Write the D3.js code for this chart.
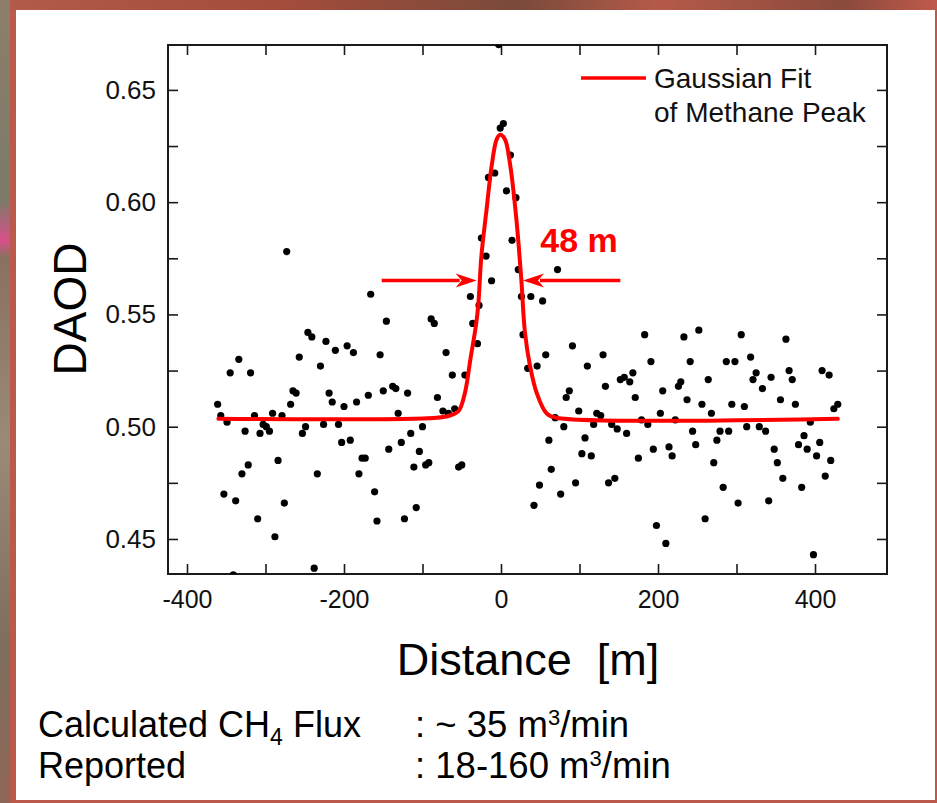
<!DOCTYPE html>
<html>
<head>
<meta charset="utf-8">
<script src="https://cdn.jsdelivr.net/npm/d3@7"></script>
<style>
  html, body { margin: 0; padding: 0; background: #b65545; }
  svg { display: block; }
  text { font-family: "Liberation Sans", Arial, sans-serif; }
</style>
</head>
<body>
<script>
// measured DAOD along the transect, [distance m, DAOD]
const measured = [
  [-273,0.578],[-166,0.559],[-39,0.558],[-28,0.554],[-12,0.565],[-19,0.576],[-25,0.584],
  [-16,0.611],[-8,0.613],[-1,0.633],[3,0.635],[12,0.621],[7,0.605],[19,0.602],[14,0.583],
  [22,0.570],[72,0.570],[26,0.558],[38,0.558],[53,0.556],[-3,0.6702],
  [-361,0.510],[-357,0.505],[-349,0.502],[-345,0.524],[-334,0.530],[-353,0.470],[-338,0.467],
  [-330,0.479],[-322,0.483],[-326,0.498],[-319,0.524],[-314,0.505],[-310,0.459],[-307,0.497],
  [-303,0.501],[-299,0.500],[-295,0.498],[-291,0.506],[-288,0.451],[-284,0.485],[-279,0.505],
  [-276,0.466],[-268,0.510],[-265,0.516],[-261,0.515],[-257,0.531],[-253,0.497],[-249,0.500],
  [-246,0.542],[-241,0.540],[-238,0.437],[-234,0.479],[-230,0.527],[-226,0.501],[-223,0.538],
  [-219,0.515],[-215,0.511],[-211,0.534],[-207,0.501],[-203,0.493],[-200,0.509],[-196,0.536],
  [-192,0.494],[-188,0.533],[-184,0.511],[-181,0.479],[-177,0.486],[-173,0.486],[-169,0.514],
  [-161,0.471],[-158,0.458],[-154,0.532],[-150,0.516],[-146,0.547],[-143,0.490],[-138,0.518],
  [-134,0.517],[-131,0.506],[-127,0.493],[-123,0.459],[-119,0.515],[-115,0.497],[-111,0.482],
  [-108,0.464],[-104,0.489],[-100,0.500],[-96,0.483],[-92,0.484],[-89,0.548],[-85,0.546],
  [-81,0.513],[-74,0.507],[-70,0.533],[-67,0.506],[-62,0.523],[-59,0.508],[-54,0.482],
  [-50,0.483],[-46,0.523],[-36,0.546],[-30,0.537],[-341,0.434],
  [28,0.541],[34,0.526],[46,0.527],[57,0.532],[69,0.504],[80,0.500],[61,0.494],[64,0.481],
  [49,0.474],[42,0.465],[76,0.470],[83,0.513],[87,0.516],[91,0.536],[99,0.507],[107,0.495],
  [103,0.488],[115,0.487],[95,0.475],[110,0.527],[118,0.501],[122,0.506],[127,0.505],
  [130,0.532],[133,0.518],[141,0.501],[148,0.499],[137,0.475],[145,0.477],[152,0.521],
  [157,0.522],[164,0.520],[168,0.524],[160,0.497],[171,0.513],[175,0.486],[179,0.503],
  [183,0.541],[187,0.501],[191,0.529],[194,0.490],[198,0.456],[203,0.506],[206,0.516],
  [210,0.448],[214,0.491],[218,0.487],[222,0.503],[226,0.518],[229,0.520],[233,0.540],
  [237,0.512],[241,0.529],[244,0.498],[248,0.492],[252,0.543],[256,0.510],[260,0.459],
  [264,0.521],[268,0.506],[271,0.484],[275,0.494],[279,0.498],[283,0.473],[287,0.529],
  [290,0.498],[294,0.510],[298,0.529],[302,0.466],[306,0.541],[310,0.509],[313,0.500],
  [318,0.531],[321,0.521],[325,0.524],[329,0.500],[333,0.517],[337,0.498],[341,0.467],
  [344,0.522],[348,0.490],[352,0.484],[356,0.512],[359,0.477],[363,0.539],[367,0.525],
  [371,0.521],[375,0.510],[379,0.492],[383,0.473],[386,0.496],[390,0.490],[394,0.502],
  [398,0.443],[402,0.487],[406,0.493],[409,0.525],[413,0.478],[418,0.523],[420,0.485],
  [424,0.508],[429,0.510]
];

// gaussian fit line, [distance m, DAOD]
const fitCurve = [
  [-360,0.5035],[-82,0.504],[-65,0.505],[-54,0.507],[-46,0.515],[-39,0.530],[-32,0.545],
  [-29,0.554],[-25,0.576],[-18,0.598],[-12,0.616],[-5.5,0.628],[-1,0.630],[5,0.628],
  [11.5,0.617],[18,0.598],[22,0.583],[26,0.565],[30.5,0.542],[37,0.527],[45.5,0.515],
  [58,0.506],[71,0.504],[429,0.5035]
];

const xTicks = [-400,-300,-200,-100,0,100,200,300,400];
const xLabels = [-400,-200,0,200,400];
const yTicks = [0.45,0.475,0.50,0.525,0.55,0.575,0.60,0.625,0.65];
const yLabels = [0.45,0.50,0.55,0.60,0.65];

// FWHM arrows: [from, to] in metres, at DAOD level
const fwhmArrows = [[-152,-31],[152,28]];
const fwhmLevel = 0.5651;
const fwhmText = "48 m";
const fwhmTextPos = [50, 0.5778];

const legendLines = ["Gaussian Fit", "of Methane Peak"];

const fluxRows = [
  { label: ["Calculated CH", "4", " Flux"], value: [": ~ 35 m", "3", "/min"] },
  { label: ["Reported", "", ""], value: [": 18-160 m", "3", "/min"] }
];

const W = 937, H = 803;
const plot = { left: 168, top: 45, right: 887, bottom: 574 };
const RED = "#ff0000";

const svg = d3.select("body").append("svg")
    .attr("width", W)
    .attr("height", H);

// textured-ish slide background
const defs = svg.append("defs");
const lg = defs.append("linearGradient").attr("id", "leftStrip")
    .attr("x1", 0).attr("y1", 0).attr("x2", 0).attr("y2", 1);
[["0%","#8d7e6a"],["25%","#7c7a68"],["30%","#d8508a"],["32%","#8a7060"],["55%","#9a8a78"],["80%","#7d6e5e"],["100%","#8f6656"]]
  .forEach(([o,c]) => lg.append("stop").attr("offset", o).attr("stop-color", c));
const tg = defs.append("linearGradient").attr("id", "topStrip");
[["0%","#b35a48"],["30%","#a34c3c"],["55%","#7a4a3a"],["70%","#b55a4a"],["90%","#8a4a3c"],["100%","#c05a4c"]]
  .forEach(([o,c]) => tg.append("stop").attr("offset", o).attr("stop-color", c));

svg.append("rect").attr("width", W).attr("height", H).attr("fill", "#bb5a4b");
svg.append("rect").attr("width", 10).attr("height", H).attr("fill", "url(#leftStrip)");
svg.append("rect").attr("x", 10).attr("width", W - 10).attr("height", 10).attr("fill", "url(#topStrip)");

// white panel
svg.append("rect")
    .attr("x", 16).attr("y", 10)
    .attr("width", 919).attr("height", 790)
    .attr("fill", "#ffffff");

const x = d3.scaleLinear().domain([-424.2, 491.7]).range([plot.left, plot.right]);
const y = d3.scaleLinear().domain([0.4344, 0.670]).range([plot.bottom, plot.top]);

defs.append("clipPath").attr("id", "plotClip")
  .append("rect")
    .attr("x", plot.left).attr("y", plot.top)
    .attr("width", plot.right - plot.left)
    .attr("height", plot.bottom - plot.top);

const fmtY = d3.format(".2f");
const isLabel = (list, d) => list.some(v => Math.abs(v - d) < 1e-6);

function styleAxis(g, size) {
  g.attr("font-size", size)
   .attr("font-family", '"Liberation Sans", Arial, sans-serif');
  g.select(".domain").remove();
  g.selectAll(".tick line").attr("stroke", "#1a1a1a").attr("stroke-width", 1.6);
  g.selectAll(".tick text").attr("fill", "#111");
}

// axes, ticks point inward
svg.append("g")
    .attr("transform", `translate(0,${plot.bottom})`)
    .call(d3.axisBottom(x).tickValues(xTicks).tickSize(-10).tickPadding(16)
      .tickFormat(d => isLabel(xLabels, d) ? d : ""))
    .call(g => styleAxis(g, 25));

svg.append("g")
    .attr("transform", `translate(0,${plot.top})`)
    .call(d3.axisTop(x).tickValues(xTicks).tickSize(-10).tickFormat(""))
    .call(g => styleAxis(g, 25));

svg.append("g")
    .attr("transform", `translate(${plot.left},0)`)
    .call(d3.axisLeft(y).tickValues(yTicks).tickSize(-10).tickPadding(12)
      .tickFormat(d => isLabel(yLabels, d) ? fmtY(d) : ""))
    .call(g => styleAxis(g, 26));

svg.append("g")
    .attr("transform", `translate(${plot.right},0)`)
    .call(d3.axisRight(y).tickValues(yTicks).tickSize(-10).tickFormat(""))
    .call(g => styleAxis(g, 26));

// frame
svg.append("rect")
    .attr("x", plot.left).attr("y", plot.top)
    .attr("width", plot.right - plot.left)
    .attr("height", plot.bottom - plot.top)
    .attr("fill", "none")
    .attr("stroke", "#1a1a1a")
    .attr("stroke-width", 2);

const inner = svg.append("g").attr("clip-path", "url(#plotClip)");

// scatter
inner.append("g")
  .selectAll("circle")
  .data(measured)
  .join("circle")
    .attr("cx", d => x(d[0]))
    .attr("cy", d => y(d[1]))
    .attr("r", 3.6)
    .attr("fill", "#000");

// fit line
inner.append("path")
    .datum(fitCurve)
    .attr("fill", "none")
    .attr("stroke", RED)
    .attr("stroke-width", 4)
    .attr("stroke-linejoin", "round")
    .attr("stroke-linecap", "round")
    .attr("d", d3.line().x(d => x(d[0])).y(d => y(d[1])).curve(d3.curveCatmullRom.alpha(0.5)));

// FWHM arrows
const headLen = 21, headHalf = 7;
fwhmArrows.forEach(([from, to]) => {
  const x0 = x(from), x1 = x(to), yy = y(fwhmLevel);
  const dir = Math.sign(x1 - x0);
  svg.append("line")
      .attr("x1", x0).attr("y1", yy)
      .attr("x2", x1 - dir * (headLen - 4)).attr("y2", yy)
      .attr("stroke", RED).attr("stroke-width", 3.5);
  svg.append("path")
      .attr("d", `M${x1},${yy} L${x1 - dir * headLen},${yy - headHalf} L${x1 - dir * (headLen - 6)},${yy} L${x1 - dir * headLen},${yy + headHalf} Z`)
      .attr("fill", RED);
});

svg.append("text")
    .attr("x", x(fwhmTextPos[0]))
    .attr("y", y(fwhmTextPos[1]))
    .attr("fill", RED)
    .attr("font-size", 34)
    .attr("font-weight", "bold")
    .text(fwhmText);

// legend
svg.append("line")
    .attr("x1", 581).attr("x2", 646)
    .attr("y1", 78).attr("y2", 78)
    .attr("stroke", RED).attr("stroke-width", 3.5);
svg.append("g")
  .selectAll("text")
  .data(legendLines)
  .join("text")
    .attr("x", 654)
    .attr("y", (d, i) => 88 + i * 34)
    .attr("font-size", 28)
    .attr("fill", "#111")
    .text(d => d);

// axis titles
svg.append("text")
    .attr("transform", "translate(86,309) rotate(-90)")
    .attr("text-anchor", "middle")
    .attr("font-size", 46)
    .attr("fill", "#000")
    .text("DAOD");

svg.append("text")
    .attr("x", 528).attr("y", 675)
    .attr("text-anchor", "middle")
    .attr("font-size", 45)
    .attr("fill", "#000")
    .attr("xml:space", "preserve")
    .text("Distance  [m]");

// flux summary
fluxRows.forEach((row, i) => {
  const base = 737 + i * 41;
  const lab = svg.append("text").attr("x", 38).attr("y", base)
      .attr("font-size", 36).attr("fill", "#000").attr("xml:space", "preserve");
  lab.append("tspan").text(row.label[0]);
  if (row.label[1]) {
    lab.append("tspan").attr("font-size", 23).attr("dy", 8).text(row.label[1]);
    lab.append("tspan").attr("dy", -8).text(row.label[2]);
  }
  const val = svg.append("text").attr("x", 415).attr("y", base)
      .attr("font-size", 36.5).attr("fill", "#000").attr("xml:space", "preserve");
  val.append("tspan").text(row.value[0]);
  val.append("tspan").attr("font-size", 22).attr("dy", -12).text(row.value[1]);
  val.append("tspan").attr("dy", 12).text(row.value[2]);
});
</script>
</body>
</html>
